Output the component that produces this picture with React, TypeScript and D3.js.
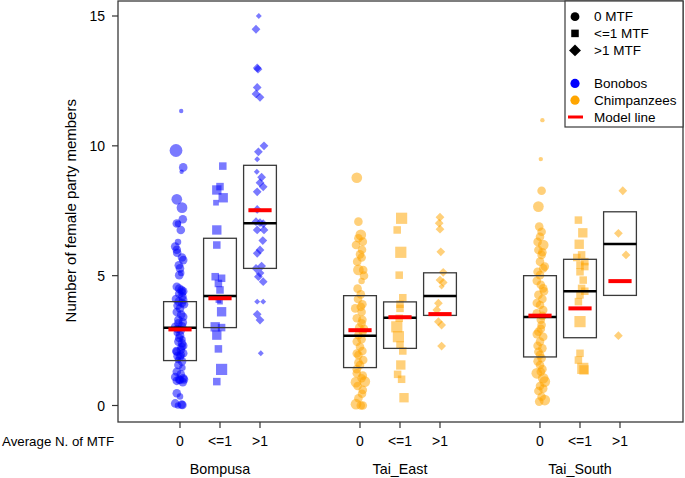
import * as d3 from 'd3';

const WIDTH = 685;
const HEIGHT = 478;
const PLOT = { left: 118, right: 683, top: 1, bottom: 422 };
const FONT = '"Liberation Sans", Arial, sans-serif';

const sites = ['Bompusa', 'Tai_East', 'Tai_South'];
const mtfLevels = ['0', '<=1', '>1'];
const mtfLegend = ['0 MTF', '<=1 MTF', '>1 MTF'];
const yTicks = [0, 5, 10, 15];

// one slot per site x MTF level, in plot units along x
const slotX = [1, 2, 3, 5.5, 6.5, 7.5, 10, 11, 12];
const siteX = [2, 6.5, 11];

// boxes (lower / upper), observed median and model estimate per slot
const boxLow = [1.73, 3.0, 5.28, 1.46, 2.2, 3.47, 1.87, 2.61, 4.24];
const boxHigh = [4.0, 6.44, 9.25, 4.23, 3.99, 5.11, 5.0, 5.63, 7.46];
const medians = [2.99, 4.22, 7.02, 2.69, 3.38, 4.22, 3.41, 4.4, 6.22];
const modelFit = [2.93, 4.13, 7.52, 2.9, 3.4, 3.52, 3.46, 3.74, 4.79];

// points: [female party members, jitter (plot units), weight]
type Pt = [number, number, number];

const bompusa0: Pt[] = [
  [11.34, 0.03, 1], [9.82, -0.1, 5], [9.17, 0.08, 3], [9.0, 0.04, 1], [7.94, -0.08, 4],
  [7.62, 0.05, 4], [7.17, 0.07, 3], [7.01, -0.08, 3], [7.0, -0.05, 2], [6.76, 0.02, 3],
  [6.3, -0.05, 2], [6.12, -0.12, 3], [6.0, -0.08, 3], [5.88, -0.07, 3], [5.7, 0.05, 3],
  [5.6, 0.08, 3], [5.4, -0.03, 3], [5.28, 0.0, 3], [5.1, 0.03, 2], [5.02, -0.02, 3],
  [4.57, -0.08, 3], [4.5, -0.02, 3], [4.45, 0.04, 3], [4.4, 0.08, 3], [4.35, 0.05, 3],
  [4.3, -0.02, 3], [4.2, 0.06, 3], [4.1, -0.1, 3], [4.06, 0.08, 3], [4.0, -0.03, 3],
  [3.95, 0.05, 3], [3.9, 0.1, 3], [3.85, -0.06, 3], [3.74, 0.0, 3], [3.6, -0.08, 3],
  [3.5, 0.03, 3], [3.42, 0.08, 3], [3.3, -0.04, 3], [3.2, 0.07, 3], [3.17, -0.04, 3],
  [3.05, 0.05, 3], [3.03, -0.12, 3], [2.95, -0.06, 3], [2.9, 0.02, 3], [2.8, -0.08, 2],
  [2.71, 0.0, 3], [2.6, -0.02, 3], [2.55, 0.06, 2], [2.46, -0.04, 3], [2.4, 0.05, 3],
  [2.3, 0.08, 3], [2.26, 0.04, 3], [2.15, 0.02, 3], [2.1, -0.09, 3], [2.07, -0.08, 3],
  [2.01, 0.08, 3], [1.95, 0.02, 3], [1.9, -0.06, 3], [1.88, 0.0, 3], [1.75, -0.05, 2],
  [1.7, 0.05, 3], [1.56, -0.04, 3], [1.45, 0.06, 2], [1.3, -0.08, 3], [1.2, 0.02, 3],
  [1.1, -0.12, 3], [1.05, 0.08, 3], [1.0, -0.02, 3], [1.0, 0.1, 3], [0.98, 0.0, 3],
  [0.95, -0.08, 3], [0.9, 0.07, 3], [0.47, -0.08, 3], [0.35, 0.0, 2], [0.08, -0.12, 3],
  [0.04, 0.04, 3], [0.02, 0.06, 3], [0.0, -0.05, 2],
];
const bompusaLe1: Pt[] = [
  [9.22, 0.07, 3], [8.43, 0.0, 3], [8.3, -0.08, 4], [8.0, 0.08, 4], [7.81, -0.1, 2],
  [6.76, -0.08, 4], [6.18, -0.08, 3], [4.96, -0.12, 3], [4.9, 0.04, 3], [4.7, -0.04, 3],
  [4.45, 0.0, 3], [4.06, -0.04, 2], [4.0, 0.0, 2], [3.61, 0.04, 4], [3.03, -0.12, 4],
  [3.0, 0.04, 3], [2.71, -0.08, 4], [2.18, -0.04, 3], [1.39, 0.04, 5], [0.92, -0.08, 3],
];
const bompusaGt1: Pt[] = [
  [15.0, -0.03, 1], [14.49, -0.1, 2], [13.0, -0.07, 2], [12.95, -0.05, 2], [12.25, -0.07, 2],
  [12.0, -0.1, 2], [11.87, 0.0, 2], [10.0, 0.1, 2], [9.77, -0.04, 2], [9.48, -0.07, 1],
  [9.0, -0.08, 1], [8.79, 0.04, 2], [8.58, 0.0, 2], [8.42, 0.08, 2], [8.23, -0.07, 2],
  [7.55, -0.07, 2], [7.08, -0.1, 2], [7.04, 0.0, 2], [7.0, 0.08, 2], [6.76, -0.07, 2],
  [6.76, 0.1, 2], [6.35, 0.07, 2], [5.99, 0.0, 2], [5.86, -0.07, 2], [5.37, 0.04, 2],
  [5.28, -0.1, 2], [5.1, 0.0, 2], [4.96, -0.04, 2], [4.77, 0.08, 2], [4.0, -0.07, 1],
  [4.0, 0.08, 1], [3.51, -0.07, 2], [3.29, 0.0, 2], [2.01, 0.02, 1],
];
const taiEast0: Pt[] = [
  [8.77, -0.08, 4], [7.08, -0.04, 3], [6.57, 0.02, 4], [6.44, -0.04, 3], [6.31, 0.07, 3],
  [6.18, -0.1, 3], [6.0, 0.05, 3], [5.82, 0.0, 3], [5.7, 0.04, 3], [5.54, -0.07, 3],
  [5.22, -0.04, 4], [5.22, 0.08, 3], [5.0, 0.1, 3], [4.79, 0.04, 2], [4.5, -0.06, 3],
  [4.28, 0.02, 3], [4.1, -0.05, 3], [3.9, 0.06, 3], [3.8, 0.02, 3], [3.74, -0.12, 3],
  [3.6, 0.04, 3], [3.36, -0.08, 3], [3.3, 0.06, 3], [3.17, 0.04, 3], [3.0, -0.02, 3],
  [2.95, 0.1, 3], [2.85, 0.07, 3], [2.71, -0.04, 3], [2.55, 0.04, 3], [2.46, -0.08, 3],
  [2.26, 0.0, 3], [2.1, 0.06, 3], [2.0, -0.08, 3], [1.94, -0.04, 3], [1.75, 0.08, 3],
  [1.65, -0.04, 3], [1.56, 0.0, 3], [1.4, -0.08, 3], [1.24, -0.08, 3], [1.15, 0.07, 3],
  [1.05, 0.04, 3], [0.92, 0.12, 4], [0.9, -0.1, 4], [0.75, -0.06, 3], [0.6, 0.07, 3],
  [0.45, 0.05, 3], [0.28, -0.04, 3], [0.05, -0.1, 4], [0.0, 0.07, 3], [0.0, 0.02, 3],
];
const taiEastLe1: Pt[] = [
  [7.21, 0.04, 5], [6.76, -0.07, 3], [5.9, 0.02, 5], [5.02, -0.02, 3], [4.15, 0.07, 3],
  [3.9, 0.0, 3], [3.74, 0.0, 3], [3.36, -0.02, 3], [3.03, -0.08, 5], [2.65, -0.04, 5],
  [2.33, 0.0, 3], [2.1, 0.07, 3], [1.56, 0.02, 4], [1.2, -0.06, 3], [1.01, 0.04, 3],
  [0.3, 0.1, 4],
];
const taiEastGt1: Pt[] = [
  [7.25, 0.0, 2], [7.02, -0.02, 2], [6.79, 0.0, 2], [5.92, 0.02, 2], [5.13, 0.08, 2],
  [4.83, 0.0, 2], [4.74, 0.08, 2], [4.58, 0.04, 1], [3.94, -0.04, 2], [3.68, -0.08, 2],
  [3.23, -0.04, 2], [3.1, 0.04, 2], [2.29, 0.04, 2],
];
const taiSouth0: Pt[] = [
  [10.99, 0.06, 1], [9.49, 0.02, 1], [8.27, 0.04, 3], [7.66, -0.04, 4], [6.89, -0.02, 3],
  [6.69, 0.04, 3], [6.5, 0.0, 3], [6.3, -0.06, 3], [6.18, 0.08, 4], [5.99, -0.04, 3],
  [5.9, 0.06, 3], [5.8, 0.04, 3], [5.54, 0.0, 3], [5.35, 0.12, 3], [5.28, 0.08, 3],
  [5.15, -0.06, 3], [5.02, 0.0, 3], [4.8, -0.08, 3], [4.65, 0.02, 3], [4.51, 0.08, 3],
  [4.4, 0.1, 3], [4.26, -0.04, 3], [4.1, 0.06, 3], [3.95, -0.08, 3], [3.87, 0.0, 3],
  [3.68, 0.08, 3], [3.55, -0.08, 3], [3.45, 0.06, 3], [3.3, 0.02, 3], [3.1, 0.04, 3],
  [2.95, 0.02, 3], [2.84, -0.04, 3], [2.75, -0.08, 3], [2.65, 0.08, 3], [2.46, 0.0, 3],
  [2.3, -0.06, 3], [2.2, 0.06, 3], [2.07, -0.04, 3], [1.95, 0.0, 3], [1.82, 0.04, 3],
  [1.7, -0.06, 3], [1.56, 0.0, 3], [1.4, 0.06, 3], [1.3, 0.02, 3], [1.24, -0.08, 4],
  [1.05, 0.08, 4], [0.92, 0.12, 4], [0.75, 0.0, 3], [0.65, 0.08, 3], [0.56, -0.04, 3],
  [0.34, 0.04, 3], [0.21, 0.12, 4], [0.15, -0.02, 3],
];
const taiSouthLe1: Pt[] = [
  [7.14, -0.04, 3], [6.65, 0.07, 4], [6.21, -0.02, 4], [5.8, 0.04, 3], [5.7, -0.08, 3],
  [5.54, 0.12, 3], [5.41, 0.0, 3], [5.35, 0.12, 3], [5.15, 0.0, 3], [4.83, 0.08, 3],
  [4.51, 0.04, 3], [4.4, 0.12, 3], [4.26, 0.0, 3], [4.0, -0.04, 3], [3.23, 0.0, 5],
  [2.01, 0.0, 3], [1.75, -0.04, 3], [1.43, 0.07, 5], [1.37, 0.1, 4],
];
const taiSouthGt1: Pt[] = [
  [8.27, 0.07, 2], [6.63, -0.04, 2], [5.8, 0.15, 2], [2.69, -0.04, 2],
];

const slotPoints = [
  bompusa0, bompusaLe1, bompusaGt1,
  taiEast0, taiEastLe1, taiEastGt1,
  taiSouth0, taiSouthLe1, taiSouthGt1,
];

const BLUE = '#0000FF';
const ORANGE = '#FFA500';
const BOX_HALF = 0.41;
const MODEL_HALF = 0.29;

// marker drawn centred on 0,0; shape index = MTF level
const Marker = ({ shape, r, fill, opacity }: { shape: number; r: number; fill: string; opacity?: number }) => {
  if (shape === 0) return <circle r={r} fill={fill} opacity={opacity} />;
  if (shape === 1) {
    const s = r * 1.75;
    return <rect x={-s / 2} y={-s / 2} width={s} height={s} fill={fill} opacity={opacity} />;
  }
  const h = r * 1.35;
  return <path d={`M0,${-h}L${h},0L0,${h}L${-h},0Z`} fill={fill} opacity={opacity} />;
};

export default function App() {
  const xScale = d3.scaleLinear().domain([-0.55, 13.575]).range([PLOT.left, PLOT.right]);
  const yScale = d3.scaleLinear().domain([0, 15]).range([405.5, 16]);
  const rScale = d3.scaleLinear().domain([1, 5]).range([2.2, 6.4]);
  const unit = xScale(1) - xScale(0);

  const points = slotPoints.map((pts, i) => {
    const shape = i % 3;
    const fill = i < 3 ? BLUE : ORANGE;
    return (
      <g key={i}>
        {pts.map((p, j) => (
          <g key={j} transform={`translate(${xScale(slotX[i] + p[1])},${yScale(p[0])})`}>
            <Marker shape={shape} r={rScale(p[2])} fill={fill} opacity={0.52} />
          </g>
        ))}
      </g>
    );
  });

  const boxes = slotX.map((sx, i) => (
    <g key={i}>
      <rect
        x={xScale(sx - BOX_HALF)}
        y={yScale(boxHigh[i])}
        width={2 * BOX_HALF * unit}
        height={yScale(boxLow[i]) - yScale(boxHigh[i])}
        fill="none"
        stroke="#3a3a3a"
        strokeWidth={1.3}
      />
      <line
        x1={xScale(sx - BOX_HALF)}
        x2={xScale(sx + BOX_HALF)}
        y1={yScale(medians[i])}
        y2={yScale(medians[i])}
        stroke="#000"
        strokeWidth={2.5}
      />
      <line
        x1={xScale(sx - MODEL_HALF)}
        x2={xScale(sx + MODEL_HALF)}
        y1={yScale(modelFit[i])}
        y2={yScale(modelFit[i])}
        stroke="#FF0000"
        strokeWidth={4}
      />
    </g>
  ));

  const yAxis = yTicks.map((t) => (
    <g key={t}>
      <line x1={PLOT.left - 6} x2={PLOT.left} y1={yScale(t)} y2={yScale(t)} stroke="#333" strokeWidth={1.2} />
      <text x={PLOT.left - 13} y={yScale(t)} textAnchor="end" dominantBaseline="central" fontSize={14}>
        {t}
      </text>
    </g>
  ));

  const xAxis = slotX.map((sx, i) => (
    <g key={i}>
      <line x1={xScale(sx)} x2={xScale(sx)} y1={PLOT.bottom} y2={PLOT.bottom + 6} stroke="#333" strokeWidth={1.2} />
      <text x={xScale(sx)} y={441} textAnchor="middle" dominantBaseline="central" fontSize={14}>
        {mtfLevels[i % 3]}
      </text>
    </g>
  ));

  const siteLabels = sites.map((s, i) => (
    <text key={s} x={xScale(siteX[i])} y={469} textAnchor="middle" dominantBaseline="central" fontSize={14.3}>
      {s}
    </text>
  ));

  const legendRows = [16.7, 33.4, 50.4, 83.4, 100.2, 117];
  const legX = 575;
  const legend = (
    <g>
      <rect x={565} y={PLOT.top} width={PLOT.right - 565} height={127 - PLOT.top} fill="#fff" stroke="#3a3a3a" strokeWidth={1.2} />
      {mtfLegend.map((label, i) => (
        <g key={label}>
          <g transform={`translate(${legX},${legendRows[i]})`}>
            <Marker shape={i} r={i === 1 ? 4.3 : 4.4} fill="#000" />
          </g>
          <text x={594} y={legendRows[i]} dominantBaseline="central" fontSize={13.5}>
            {label}
          </text>
        </g>
      ))}
      <circle cx={legX} cy={legendRows[3]} r={4.6} fill={BLUE} />
      <text x={594} y={legendRows[3]} dominantBaseline="central" fontSize={13.5}>Bonobos</text>
      <circle cx={legX} cy={legendRows[4]} r={4.6} fill={ORANGE} />
      <text x={594} y={legendRows[4]} dominantBaseline="central" fontSize={13.5}>Chimpanzees</text>
      <line x1={568} x2={583} y1={legendRows[5]} y2={legendRows[5]} stroke="#FF0000" strokeWidth={3} />
      <text x={594} y={legendRows[5]} dominantBaseline="central" fontSize={13.5}>Model line</text>
    </g>
  );

  return (
    <svg
      width={WIDTH}
      height={HEIGHT}
      style={{ position: 'absolute', left: 0, top: 0, background: '#fff' }}
      fontFamily={FONT}
      fill="#000"
    >
      {points}
      {boxes}
      <rect
        x={PLOT.left}
        y={PLOT.top}
        width={PLOT.right - PLOT.left}
        height={PLOT.bottom - PLOT.top}
        fill="none"
        stroke="#3a3a3a"
        strokeWidth={1.3}
      />
      {yAxis}
      {xAxis}
      {siteLabels}
      <text x={2} y={441} dominantBaseline="central" fontSize={13.3}>Average N. of MTF</text>
      <text
        transform={`translate(70,${(yScale(0) + yScale(15)) / 2}) rotate(-90)`}
        textAnchor="middle"
        dominantBaseline="central"
        fontSize={15}
      >
        Number of female party members
      </text>
      {legend}
    </svg>
  );
}
